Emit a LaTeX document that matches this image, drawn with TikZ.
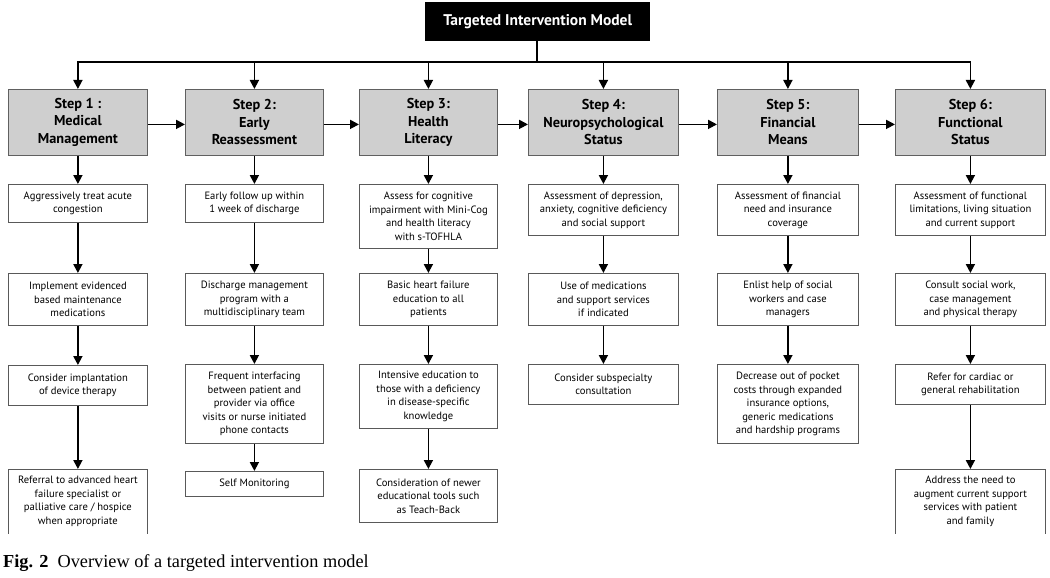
\documentclass[tikz,border=0pt]{standalone}
\usepackage{fontspec}
\setmainfont{Liberation Serif}
\newfontfamily\boxfont{PT Sans}
\usetikzlibrary{arrows.meta}
\newcommand\ibox[6]{\node[itembox,minimum width={#4-#2},minimum height={#5-#3}] (#1) at (#2,#3) {#6};}
\newcommand\obox[6]{\node[itembox,draw=none,minimum width={#4-#2},minimum height={#5-#3}] (#1) at (#2,#3) {#6};
  \draw[boxline] (#1.south west) -- (#1.north west) -- (#1.north east) -- (#1.south east);}
\newcommand\stepnode[6]{\node[stepbox,minimum width={#4-#2},minimum height={#5-#3}] (#1) at (#2,#3) {#6};}
\begin{document}
\begin{tikzpicture}[x=1pt,y=-1pt,
  conn/.style={line width=1.8pt},
  arr/.style={conn,-{Triangle[length=9pt,width=9pt]}},
  boxline/.style={draw=gray!70!black,line width=0.8pt},
  stepbox/.style={draw=gray!75!black,line width=0.8pt,fill=gray!38,
    font=\boxfont\bfseries\fontsize{14.3}{17.5}\selectfont,align=center,anchor=north west,inner sep=1pt},
  itembox/.style={boxline,fill=white,
    font=\boxfont\fontsize{10.6}{13.5}\selectfont,align=center,anchor=north west,inner sep=1pt},
  titlebox/.style={fill=black,text=white,font=\boxfont\bfseries\fontsize{15.5}{18}\selectfont,anchor=north west,inner sep=1pt}]
\useasboundingbox (0,0) rectangle (1050,578);
\fill[white] (0,0) rectangle (1050,578);

% title
\node[titlebox,minimum width=225,minimum height=39] (t) at (425,2) {Targeted Intervention Model};

% steps
\stepnode{s1}{8}{89}{147}{155}{Step 1 :\\Medical\\Management}
\stepnode{s2}{185}{89}{323}{155}{Step 2:\\Early\\Reassessment}
\stepnode{s3}{359}{89}{497}{155}{Step 3:\\Health\\Literacy}
\stepnode{s4}{528}{89}{678}{155}{Step 4:\\Neuropsychological\\Status}
\stepnode{s5}{717}{89}{858}{155}{Step 5:\\Financial\\Means}
\stepnode{s6}{895}{89}{1045}{155}{Step 6:\\Functional\\Status}

% column 1
\ibox{a1}{8}{184}{147}{222}{Aggressively treat acute\\congestion}
\ibox{a2}{8}{273}{147}{325}{Implement evidenced\\based maintenance\\medications}
\ibox{a3}{8}{365}{147}{405}{Consider implantation\\of device therapy}
\obox{a4}{8}{469}{147}{533}{Referral to advanced heart\\failure specialist or\\palliative care / hospice\\when appropriate}

% column 2
\ibox{b1}{185}{184}{323}{222}{Early follow up within\\1 week of discharge}
\ibox{b2}{185}{273}{323}{325}{Discharge management\\program with a\\multidisciplinary team}
\ibox{b3}{185}{364}{323}{443}{Frequent interfacing\\between patient and\\provider via office\\visits or nurse initiated\\phone contacts}
\ibox{b4}{185}{471}{323}{496}{Self Monitoring}

% column 3
\ibox{c1}{359}{184}{497}{248}{Assess for cognitive\\impairment with Mini-Cog\\and health literacy\\with s-TOFHLA}
\ibox{c2}{359}{273}{497}{325}{Basic heart failure\\education to all\\patients}
\ibox{c3}{359}{364}{497}{428}{Intensive education to\\those with a deficiency\\in disease-specific\\knowledge}
\ibox{c4}{359}{469}{497}{522}{Consideration of newer\\educational tools such\\as Teach-Back}

% column 4
\ibox{d1}{528}{184}{678}{235}{Assessment of depression,\\anxiety, cognitive deficiency\\and social support}
\ibox{d2}{528}{273}{678}{325}{Use of medications\\and support services\\if indicated}
\ibox{d3}{528}{364}{678}{404}{Consider subspecialty\\consultation}

% column 5
\ibox{e1}{717}{184}{858}{235}{Assessment of financial\\need and insurance\\coverage}
\ibox{e2}{717}{273}{858}{325}{Enlist help of social\\workers and case\\managers}
\ibox{e3}{717}{364}{858}{443}{Decrease out of pocket\\costs through expanded\\insurance options,\\generic medications\\and hardship programs}

% column 6
\ibox{f1}{895}{184}{1045}{235}{Assessment of functional\\limitations, living situation\\and current support}
\ibox{f2}{895}{273}{1045}{325}{Consult social work,\\case management\\and physical therapy}
\ibox{f3}{895}{364}{1045}{404}{Refer for cardiac or\\general rehabilitation}
\obox{f4}{895}{469}{1045}{533}{Address the need to\\augment current support\\services with patient\\and family}

% bus from title
\coordinate (bus) at (537,62);
\draw[conn] (t.south -| bus) -- (bus);
\draw[arr] (bus) -| (s1.north);
\draw[arr] (bus) -| (s6.north);
\foreach \s in {s2,s3,s4,s5} \draw[arr] (\s.north |- bus) -- (\s.north);

% horizontal step arrows
\foreach \a/\b in {s1/s2,s2/s3,s3/s4,s4/s5,s5/s6}
  \draw[arr] ([yshift=-2pt]\a.east) -- ([yshift=-2pt]\b.west);

% vertical arrows
\foreach \a/\b in {s1/a1,a1/a2,a2/a3,a3/a4,
                   s2/b1,b1/b2,b2/b3,b3/b4,
                   s3/c1,c1/c2,c2/c3,c3/c4,
                   s4/d1,d1/d2,d2/d3,
                   s5/e1,e1/e2,e2/e3,
                   s6/f1,f1/f2,f2/f3,f3/f4}
  \draw[arr] (\a.south) -- (\b.north);

% caption
\node[anchor=base west,inner sep=0,font=\fontsize{18.3}{21}\selectfont] (cap) at (3,567)
  {\textbf{Fig. 2}\enspace Overview of a targeted intervention model};
\end{tikzpicture}
\end{document}
